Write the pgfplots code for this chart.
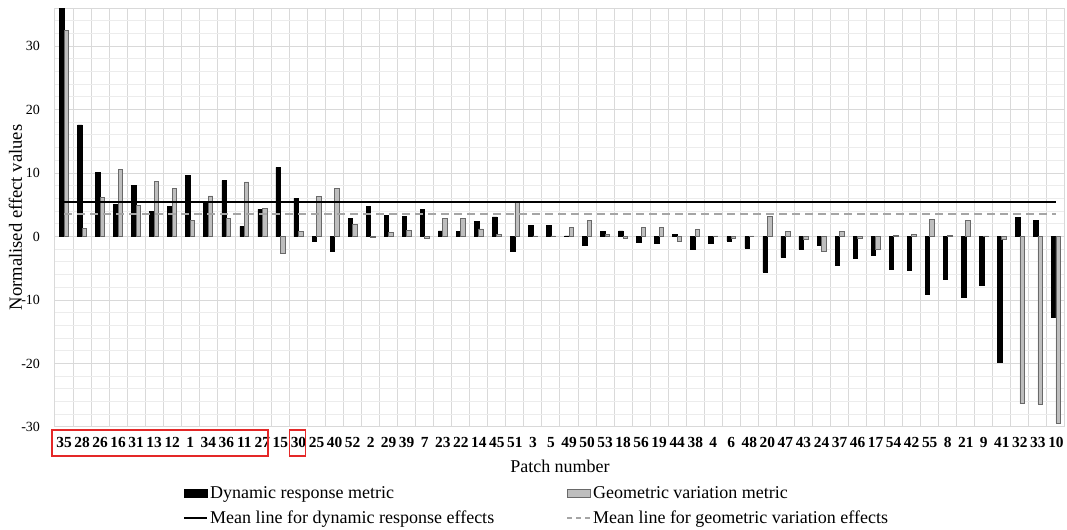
\documentclass[border=0pt]{standalone}
\usepackage{pgfplots}
\pgfplotsset{compat=1.18}
\usepackage{pgfplotstable}
\usepackage{fontspec}
\setmainfont{Liberation Serif}

\definecolor{gridmaj}{RGB}{217,217,217}
\definecolor{gridmin}{RGB}{236,236,236}
\definecolor{geofill}{RGB}{190,190,190}
\definecolor{geoedge}{RGB}{105,105,105}
\definecolor{meangeo}{RGB}{165,165,165}
\definecolor{boxred}{RGB}{228,40,40}

\pgfplotstableread{
idx dyn geo
0 36.3 32.4
1 17.6 1.3
2 10.1 6.2
3 5.05 10.5
4 8.0 4.9
5 3.9 8.7
6 4.7 7.6
7 9.6 2.6
8 5.5 6.4
9 8.8 2.8
10 1.6 8.6
11 4.3 4.4
12 10.9 -2.6
13 6.0 0.8
14 -0.8 6.3
15 -2.4 7.6
16 2.9 1.9
17 4.8 -0.2
18 3.3 0.7
19 3.2 0.9
20 4.3 -0.3
21 0.9 2.8
22 0.8 2.8
23 2.4 1.2
24 3.1 0.4
25 -2.4 5.4
26 1.7 0.1
27 1.8 0.1
28 0.1 1.4
29 -1.4 2.6
30 0.8 0.4
31 0.9 -0.3
32 -0.9 1.5
33 -1.1 1.4
34 0.4 -0.7
35 -2.0 1.1
36 -1.1 0.1
37 -0.7 -0.3
38 -1.8 0.1
39 -5.6 3.1
40 -3.3 0.8
41 -2.0 -0.5
42 -1.4 -2.4
43 -4.6 0.8
44 -3.5 -0.3
45 -2.9 -2.0
46 -5.1 0.2
47 -5.3 0.3
48 -9.1 2.7
49 -6.8 0.2
50 -9.6 2.6
51 -7.7 0.1
52 -19.8 -0.5
53 3.0 -26.3
54 2.5 -26.4
55 -12.7 -29.4
}\datatable

\begin{document}
\begin{tikzpicture}
\useasboundingbox (-27.5pt,-51.5pt) rectangle (506pt,213.5pt);
\begin{axis}[
  at={(0pt,0pt)}, anchor=south west,
  scale only axis, width=505pt, height=209.5pt,
  xmin=-0.5, xmax=55.5, ymin=-30, ymax=36,
  xtick={0,...,55},
  xticklabels={35,28,26,16,31,13,12,1,34,36,11,27,15,30,25,40,52,2,29,39,7,23,22,14,45,51,3,5,49,50,53,18,56,19,44,38,4,6,48,20,47,43,24,37,46,17,54,42,55,8,21,9,41,32,33,10},
  ytick={-30,-20,...,30},
  yticklabels={-30,-20,-10,0,10,20,30},
  minor xtick={-0.5,0.5,...,55.5},
  minor ytick={-30,-28,...,36},
  xminorgrids=true, ymajorgrids=true, yminorgrids=true,
  major grid style={gridmaj, line width=0.5pt},
  minor x grid style={gridmaj, line width=0.5pt},
  minor y grid style={gridmin, line width=0.5pt},
  major tick length=0pt, minor tick length=0pt,
  axis line style={gridmaj, line width=0.5pt},
  yticklabel style={font=\fontsize{7}{8}\selectfont, xshift=-4pt},
  xticklabel style={font=\bfseries\fontsize{7.7}{9}\selectfont, yshift=-1.5pt},
  ylabel={Normalised effect values},
  ylabel style={at={(axis description cs:-0.0391,0.5)}, anchor=center, font=\fontsize{9.3}{11}\selectfont},
  xlabel={Patch number},
  xlabel style={at={(axis description cs:0.5,-0.0931)}, anchor=center, font=\fontsize{9}{11}\selectfont},
  legend columns=2,
  legend cell align=left,
  legend style={at={(0.1267,-0.136)}, anchor=north west, draw=none, fill=none,
    font=\fontsize{9}{11}\selectfont, inner sep=0pt, row sep=2.6pt,
    nodes={inner xsep=1pt, inner ysep=1pt},
    /tikz/every even column/.append style={column sep=35pt}},
]
\addplot[ybar, bar width=0.25, bar shift=-0.125, fill=black, draw=black, line width=0.3pt, forget plot]
  table[x=idx, y=dyn]{\datatable};
\addplot[ybar, bar width=0.25, bar shift=0.125, fill=geofill, draw=geoedge, line width=0.4pt, forget plot]
  table[x=idx, y=geo]{\datatable};
\addplot[black, line width=0.9pt, forget plot] coordinates {(0,5.45) (55,5.45)};
\addplot[meangeo, line width=0.9pt, dash pattern=on 4pt off 2.5pt, forget plot] coordinates {(0,3.55) (55,3.55)};

\addlegendimage{legend image code/.code={\draw[fill=black, draw=black] (0pt,-2pt) rectangle (11.5pt,2pt);}}
\addlegendentry{Dynamic response metric}
\addlegendimage{legend image code/.code={\draw[fill=geofill, draw=geoedge, line width=0.4pt] (0pt,-2pt) rectangle (11.5pt,2pt);}}
\addlegendentry{Geometric variation metric}
\addlegendimage{legend image code/.code={\draw[black, line width=0.9pt] (0pt,0pt) -- (11.5pt,0pt);}}
\addlegendentry{Mean line for dynamic response effects}
\addlegendimage{legend image code/.code={\draw[meangeo, line width=0.9pt, dash pattern=on 2.5pt off 2pt] (0pt,0pt) -- (11.5pt,0pt);}}
\addlegendentry{Mean line for geometric variation effects}

\coordinate (b1) at (axis cs:-0.67,-30.47);
\coordinate (b2) at (axis cs:11.31,-34.58);
\coordinate (c1) at (axis cs:12.5,-30.47);
\coordinate (c2) at (axis cs:13.4,-34.58);
\end{axis}
\draw[boxred, line width=0.75pt] (b1) rectangle (b2);
\draw[boxred, line width=0.75pt] (c1) rectangle (c2);
\end{tikzpicture}
\end{document}
